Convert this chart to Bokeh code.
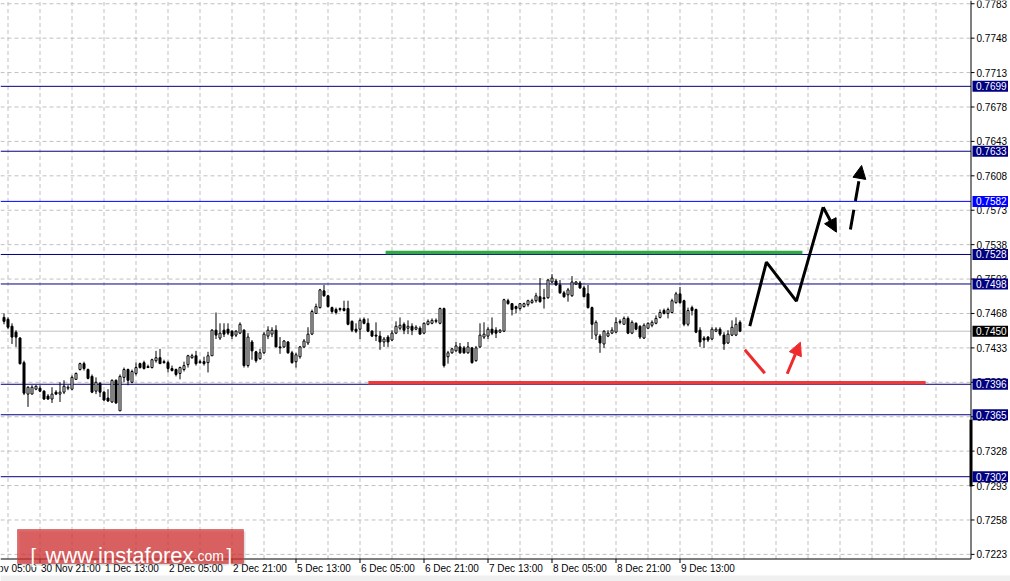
from bokeh.plotting import figure
from bokeh.models import Range1d, Arrow, NormalHead
from bokeh.core.properties import value
from bokeh.embed import file_html
from bokeh.resources import INLINE

# ---------------- data (hourly candles) ----------------
opens = [0.7464, 0.7462, 0.7455, 0.7449, 0.7443, 0.7418, 0.7386, 0.7386, 0.7391, 0.7392,
         0.7389, 0.7384, 0.7381, 0.7388, 0.7386, 0.7388, 0.7392, 0.7391, 0.7401, 0.7411,
         0.7417, 0.7411, 0.7404, 0.7389, 0.7397, 0.7388, 0.7382, 0.7378, 0.7400, 0.7369,
         0.7403, 0.7411, 0.7398, 0.7407, 0.7417, 0.7418, 0.7414, 0.7413, 0.7420, 0.7423,
         0.7419, 0.7418, 0.7412, 0.7411, 0.7407, 0.7411, 0.7416, 0.7423, 0.7425, 0.7418,
         0.7419, 0.7418, 0.7425, 0.7451, 0.7443, 0.7451, 0.7452, 0.7450, 0.7446, 0.7448,
         0.7451, 0.7415, 0.7439, 0.7429, 0.7422, 0.7428, 0.7445, 0.7447, 0.7451, 0.7434,
         0.7434, 0.7439, 0.7428, 0.7419, 0.7424, 0.7434, 0.7438, 0.7447, 0.7468, 0.7474,
         0.7491, 0.7486, 0.7474, 0.7472, 0.7472, 0.7473, 0.7473, 0.7460, 0.7452, 0.7452,
         0.7462, 0.7458, 0.7450, 0.7446, 0.7445, 0.7439, 0.7444, 0.7441, 0.7448, 0.7453,
         0.7457, 0.7453, 0.7455, 0.7452, 0.7453, 0.7448, 0.7457, 0.7458, 0.7460, 0.7458,
         0.7473, 0.7424, 0.7428, 0.7430, 0.7434, 0.7433, 0.7428, 0.7433, 0.7420, 0.7434,
         0.7444, 0.7445, 0.7452, 0.7451, 0.7449, 0.7450, 0.7481, 0.7478, 0.7475, 0.7473,
         0.7475, 0.7477, 0.7479, 0.7481, 0.7485, 0.7484, 0.7484, 0.7500, 0.7501, 0.7497,
         0.7489, 0.7487, 0.7486, 0.7498, 0.7499, 0.7494, 0.7488, 0.7474, 0.7446, 0.7445,
         0.7437, 0.7445, 0.7448, 0.7449, 0.7459, 0.7457, 0.7463, 0.7448, 0.7458, 0.7455,
         0.7443, 0.7453, 0.7456, 0.7458, 0.7464, 0.7471, 0.7468, 0.7469, 0.7479, 0.7488,
         0.7481, 0.7457, 0.7474, 0.7472, 0.7451, 0.7443, 0.7444, 0.7442, 0.7450, 0.7452,
         0.7446, 0.7438, 0.7446, 0.7446, 0.7459]
highs = [0.7468, 0.7464, 0.7458, 0.7451, 0.7444, 0.7420, 0.7394, 0.7395, 0.7395, 0.7395,
         0.7390, 0.7386, 0.7393, 0.7390, 0.7398, 0.7400, 0.7395, 0.7405, 0.7408, 0.7418,
         0.7419, 0.7412, 0.7406, 0.7403, 0.7398, 0.7389, 0.7391, 0.7401, 0.7401, 0.7406,
         0.7413, 0.7412, 0.7411, 0.7418, 0.7418, 0.7420, 0.7416, 0.7422, 0.7430, 0.7432,
         0.7421, 0.7420, 0.7415, 0.7412, 0.7414, 0.7419, 0.7426, 0.7427, 0.7430, 0.7421,
         0.7424, 0.7429, 0.7452, 0.7469, 0.7458, 0.7458, 0.7458, 0.7451, 0.7451, 0.7459,
         0.7452, 0.7448, 0.7441, 0.7430, 0.7432, 0.7449, 0.7455, 0.7454, 0.7456, 0.7444,
         0.7441, 0.7440, 0.7430, 0.7428, 0.7435, 0.7442, 0.7454, 0.7472, 0.7478, 0.7493,
         0.7497, 0.7487, 0.7475, 0.7474, 0.7474, 0.7481, 0.7481, 0.7461, 0.7458, 0.7463,
         0.7464, 0.7463, 0.7451, 0.7459, 0.7450, 0.7444, 0.7446, 0.7451, 0.7460, 0.7464,
         0.7459, 0.7461, 0.7458, 0.7456, 0.7455, 0.7459, 0.7462, 0.7463, 0.7463, 0.7474,
         0.7474, 0.7430, 0.7433, 0.7439, 0.7438, 0.7435, 0.7439, 0.7434, 0.7435, 0.7458,
         0.7459, 0.7454, 0.7464, 0.7454, 0.7452, 0.7483, 0.7483, 0.7478, 0.7476, 0.7478,
         0.7479, 0.7482, 0.7483, 0.7489, 0.7504, 0.7493, 0.7503, 0.7508, 0.7503, 0.7502,
         0.7491, 0.7494, 0.7506, 0.7501, 0.7501, 0.7496, 0.7497, 0.7475, 0.7461, 0.7447,
         0.7451, 0.7451, 0.7454, 0.7464, 0.7462, 0.7465, 0.7465, 0.7461, 0.7459, 0.7456,
         0.7458, 0.7459, 0.7461, 0.7466, 0.7472, 0.7473, 0.7474, 0.7483, 0.7490, 0.7495,
         0.7482, 0.7474, 0.7476, 0.7473, 0.7454, 0.7445, 0.7445, 0.7454, 0.7454, 0.7454,
         0.7449, 0.7451, 0.7461, 0.7464, 0.7461]
lows = [0.7457, 0.7452, 0.7437, 0.7434, 0.7416, 0.7385, 0.7373, 0.7386, 0.7390, 0.7388,
        0.7380, 0.7380, 0.7377, 0.7385, 0.7378, 0.7386, 0.7390, 0.7390, 0.7401, 0.7410,
        0.7410, 0.7401, 0.7387, 0.7386, 0.7383, 0.7379, 0.7378, 0.7377, 0.7376, 0.7369,
        0.7398, 0.7395, 0.7397, 0.7405, 0.7412, 0.7411, 0.7413, 0.7412, 0.7418, 0.7417,
        0.7417, 0.7408, 0.7409, 0.7404, 0.7401, 0.7409, 0.7413, 0.7422, 0.7415, 0.7417,
        0.7415, 0.7408, 0.7425, 0.7442, 0.7441, 0.7444, 0.7446, 0.7442, 0.7444, 0.7447,
        0.7413, 0.7413, 0.7421, 0.7418, 0.7421, 0.7427, 0.7442, 0.7444, 0.7434, 0.7427,
        0.7433, 0.7427, 0.7417, 0.7413, 0.7422, 0.7433, 0.7436, 0.7446, 0.7468, 0.7473,
        0.7485, 0.7474, 0.7468, 0.7467, 0.7470, 0.7470, 0.7456, 0.7449, 0.7448, 0.7442,
        0.7457, 0.7449, 0.7444, 0.7440, 0.7431, 0.7434, 0.7434, 0.7440, 0.7447, 0.7451,
        0.7447, 0.7447, 0.7446, 0.7451, 0.7447, 0.7447, 0.7456, 0.7457, 0.7458, 0.7457,
        0.7413, 0.7417, 0.7427, 0.7429, 0.7427, 0.7427, 0.7427, 0.7417, 0.7419, 0.7433,
        0.7442, 0.7442, 0.7446, 0.7443, 0.7448, 0.7449, 0.7477, 0.7466, 0.7468, 0.7471,
        0.7474, 0.7475, 0.7478, 0.7479, 0.7479, 0.7473, 0.7483, 0.7499, 0.7496, 0.7488,
        0.7484, 0.7480, 0.7485, 0.7497, 0.7493, 0.7485, 0.7473, 0.7442, 0.7441, 0.7428,
        0.7433, 0.7444, 0.7447, 0.7448, 0.7457, 0.7457, 0.7447, 0.7447, 0.7451, 0.7442,
        0.7442, 0.7452, 0.7454, 0.7457, 0.7463, 0.7467, 0.7463, 0.7468, 0.7478, 0.7478,
        0.7455, 0.7455, 0.7466, 0.7448, 0.7434, 0.7433, 0.7439, 0.7441, 0.7449, 0.7445,
        0.7431, 0.7437, 0.7445, 0.7445, 0.7449]
closes = [0.7460, 0.7454, 0.7444, 0.7444, 0.7417, 0.7387, 0.7393, 0.7393, 0.7394, 0.7389,
          0.7381, 0.7381, 0.7386, 0.7386, 0.7388, 0.7394, 0.7393, 0.7403, 0.7407, 0.7417,
          0.7412, 0.7402, 0.7388, 0.7398, 0.7388, 0.7380, 0.7379, 0.7400, 0.7377, 0.7404,
          0.7411, 0.7400, 0.7409, 0.7413, 0.7413, 0.7412, 0.7413, 0.7421, 0.7423, 0.7417,
          0.7418, 0.7412, 0.7410, 0.7406, 0.7413, 0.7415, 0.7425, 0.7425, 0.7417, 0.7419,
          0.7417, 0.7425, 0.7451, 0.7446, 0.7448, 0.7447, 0.7448, 0.7445, 0.7450, 0.7457,
          0.7415, 0.7444, 0.7430, 0.7420, 0.7428, 0.7447, 0.7451, 0.7451, 0.7434, 0.7433,
          0.7440, 0.7428, 0.7418, 0.7426, 0.7434, 0.7440, 0.7447, 0.7470, 0.7475, 0.7492,
          0.7486, 0.7475, 0.7470, 0.7469, 0.7473, 0.7471, 0.7457, 0.7451, 0.7450, 0.7461,
          0.7458, 0.7450, 0.7445, 0.7445, 0.7439, 0.7442, 0.7439, 0.7448, 0.7455, 0.7456,
          0.7451, 0.7455, 0.7451, 0.7454, 0.7447, 0.7458, 0.7460, 0.7461, 0.7461, 0.7473,
          0.7415, 0.7428, 0.7432, 0.7435, 0.7428, 0.7428, 0.7434, 0.7418, 0.7433, 0.7446,
          0.7447, 0.7452, 0.7448, 0.7448, 0.7451, 0.7482, 0.7478, 0.7472, 0.7473, 0.7478,
          0.7478, 0.7481, 0.7481, 0.7486, 0.7480, 0.7483, 0.7502, 0.7504, 0.7497, 0.7489,
          0.7485, 0.7492, 0.7500, 0.7500, 0.7494, 0.7485, 0.7474, 0.7457, 0.7459, 0.7438,
          0.7450, 0.7448, 0.7451, 0.7459, 0.7460, 0.7463, 0.7448, 0.7459, 0.7452, 0.7444,
          0.7456, 0.7458, 0.7459, 0.7463, 0.7469, 0.7468, 0.7472, 0.7481, 0.7488, 0.7479,
          0.7457, 0.7471, 0.7471, 0.7449, 0.7439, 0.7441, 0.7441, 0.7452, 0.7452, 0.7447,
          0.7437, 0.7447, 0.7454, 0.7457, 0.7450]

time_labels = ["30 Nov 05:00", "30 Nov 21:00", "1 Dec 13:00", "2 Dec 05:00", "2 Dec 21:00",
               "5 Dec 13:00", "6 Dec 05:00", "6 Dec 21:00", "7 Dec 13:00", "8 Dec 05:00",
               "8 Dec 21:00", "9 Dec 13:00"]
time_label_bars = [-7, 9, 25, 41, 57, 73, 89, 105, 121, 137, 153, 169]

price_ticks = [0.7783, 0.7748, 0.7713, 0.7678, 0.7643, 0.7608, 0.7573, 0.7538, 0.7503,
               0.7468, 0.7433, 0.7398, 0.7363, 0.7328, 0.7293, 0.7258, 0.7223]

level_prices = [0.7699, 0.7633, 0.7582, 0.7528, 0.7498, 0.7396, 0.7365, 0.7302]
bid_price = 0.7450

# hand-drawn forecast marks (bar index, price)
green_bars = [95.4, 199.6]
green_prices = [0.7530, 0.7530]
red_bars = [91.1, 230.4]
red_prices = [0.73975, 0.73975]
path_bars = [186.45, 190.6, 198.1, 204.8, 208.1]
path_prices = [0.74551, 0.75202, 0.74805, 0.75761, 0.75507]
dash_bars = [211.6, 214.4]
dash_prices = [0.75534, 0.76185]
red_stroke_bars = [185.2, 190.2]
red_stroke_prices = [0.74311, 0.74073]
red_arrow_bars = [195.8, 199.1]
red_arrow_prices = [0.74067, 0.74388]
axis_bar_prices = [0.7360, 0.7292]

# ---------------- layout / styles ----------------
NAVY = "#000080"
BLUE = "#0000ff"
level_colors = [NAVY, NAVY, BLUE, NAVY, NAVY, NAVY, NAVY, NAVY]
FONT = "Liberation Sans"
W, H = 1010, 581
BAR_PX = 4.0                 # pixels per bar
X_LEFT = -0.875              # bar index at left edge
PX = 0.0001017               # price per pixel
P_TOP = 0.77863              # price at top edge
X_RIGHT = X_LEFT + W / BAR_PX
P_BOTTOM = P_TOP - H * PX


def bx(px):   # pixel column -> bar coordinate
    return X_LEFT + px / BAR_PX


def py(px):   # pixel row -> price coordinate
    return P_TOP - px * PX


AX_X = bx(970.5)     # price axis line
AX_Y = py(558.5)     # time axis line

p = figure(frame_width=W, frame_height=H,
           x_range=Range1d(X_LEFT, X_RIGHT), y_range=Range1d(P_BOTTOM, P_TOP),
           x_axis_location=None, y_axis_location=None,
           toolbar_location=None, output_backend="svg",
           min_border=0, min_border_left=0, min_border_right=0, min_border_top=0, min_border_bottom=0,
           background_fill_color="white", border_fill_color="white", outline_line_color=None)
p.grid.visible = False

# bottom window strip
p.quad(left=[X_LEFT], right=[X_RIGHT], top=[py(575)], bottom=[P_BOTTOM],
       fill_color="#f0f0f0", line_color=None)

# grid
grid_bars = list(range(time_label_bars[0] - 8 + 16, int(AX_X), 8))
p.segment(x0=grid_bars, y0=[AX_Y] * len(grid_bars), x1=grid_bars, y1=[P_TOP] * len(grid_bars),
          line_color="#c0c0c0", line_width=1, line_dash="4 3")
p.segment(x0=[X_LEFT] * len(price_ticks), y0=price_ticks, x1=[AX_X] * len(price_ticks), y1=price_ticks,
          line_color="#c0c0c0", line_width=1, line_dash="4 3")

# bid line and levels
p.segment(x0=[X_LEFT], y0=[bid_price], x1=[AX_X], y1=[bid_price], line_color="#c0c0c0", line_width=1)
p.segment(x0=[X_LEFT] * len(level_prices), y0=level_prices, x1=[AX_X] * len(level_prices), y1=level_prices,
          line_color=level_colors, line_width=1)

# candles
idx = list(range(len(opens)))
p.segment(x0=idx, y0=lows, x1=idx, y1=highs, line_color="black", line_width=1)
bull = [i for i in idx if closes[i] >= opens[i]]
bear = [i for i in idx if closes[i] < opens[i]]
p.vbar(x=bull, width=0.5, top=[closes[i] for i in bull], bottom=[opens[i] for i in bull],
       fill_color="white", line_color="black", line_width=1)
p.vbar(x=bear, width=0.5, top=[opens[i] for i in bear], bottom=[closes[i] for i in bear],
       fill_color="black", line_color="black", line_width=1)

# forecast marks
p.line(green_bars, green_prices, line_color="#2fa845", line_width=3.5)
p.line(red_bars, red_prices, line_color="#ee3a3d", line_width=3.5)
p.line(path_bars[:4], path_prices[:4], line_color="black", line_width=3)
p.add_layout(Arrow(end=NormalHead(size=13, fill_color="black", line_color="black"),
                   x_start=path_bars[3], y_start=path_prices[3],
                   x_end=path_bars[4], y_end=path_prices[4],
                   line_color="black", line_width=3))
p.add_layout(Arrow(end=NormalHead(size=13, fill_color="black", line_color="black"),
                   x_start=dash_bars[0], y_start=dash_prices[0],
                   x_end=dash_bars[1], y_end=dash_prices[1],
                   line_color="black", line_width=3, line_dash="20 9"))
p.line(red_stroke_bars, red_stroke_prices, line_color="#ee2a2d", line_width=3)
p.add_layout(Arrow(end=NormalHead(size=13, fill_color="#ee2a2d", line_color="#ee2a2d"),
                   x_start=red_arrow_bars[0], y_start=red_arrow_prices[0],
                   x_end=red_arrow_bars[1], y_end=red_arrow_prices[1],
                   line_color="#ee2a2d", line_width=3))

# ---- time axis ----
p.segment(x0=[X_LEFT], y0=[AX_Y], x1=[AX_X], y1=[AX_Y], line_color="black", line_width=1)
p.segment(x0=time_label_bars, y0=[AX_Y] * len(time_label_bars),
          x1=time_label_bars, y1=[py(562.5)] * len(time_label_bars), line_color="black", line_width=1)
p.text(x=[b + 0.25 for b in time_label_bars], y=[py(562)] * len(time_label_bars), text=time_labels,
       text_font=value(FONT), text_font_size=value("10px"), text_color="black",
       text_align="left", text_baseline="top")

# ---- price axis ----
p.segment(x0=[AX_X], y0=[AX_Y], x1=[AX_X], y1=[P_TOP], line_color="black", line_width=1)
p.segment(x0=[AX_X] * len(price_ticks), y0=price_ticks, x1=[bx(974)] * len(price_ticks), y1=price_ticks,
          line_color="black", line_width=1)
p.text(x=[bx(976)] * len(price_ticks), y=price_ticks, text=[f"{t:.4f}" for t in price_ticks],
       text_font=value(FONT), text_font_size=value("10px"), text_color="black",
       text_align="left", text_baseline="middle")

# black bar on the price axis
p.segment(x0=[AX_X], y0=[axis_bar_prices[0]], x1=[AX_X], y1=[axis_bar_prices[1]],
          line_color="black", line_width=3)

# price boxes on the axis
box_prices = level_prices + [bid_price]
box_colors = level_colors + ["black"]
p.quad(left=[bx(972)] * len(box_prices), right=[bx(1007.5)] * len(box_prices),
       top=[b + 5.5 * PX for b in box_prices], bottom=[b - 5.5 * PX for b in box_prices],
       fill_color=box_colors, line_color=None)
p.text(x=[bx(975.5)] * len(box_prices), y=box_prices, text=[f"{b:.4f}" for b in box_prices],
       text_font=value(FONT), text_font_size=value("10px"), text_color="white",
       text_align="left", text_baseline="middle")

# ---- logo ----
p.quad(left=[bx(19)], right=[bx(245)], top=[py(531)], bottom=[py(565)],
       fill_color="#808080", fill_alpha=0.25, line_color=None)
p.quad(left=[bx(17)], right=[bx(243)], top=[py(529)], bottom=[py(563)],
       fill_color="#d52a2a", fill_alpha=0.7, line_color="#c05050", line_alpha=0.6)
p.text(x=[bx(30)], y=[py(555)], text=["["], text_font=value(FONT), text_font_size=value("20px"),
       text_color="white", text_baseline="alphabetic")
p.text(x=[bx(45)], y=[py(555)], text=["www.instaforex"], text_font=value(FONT),
       text_font_size=value("22px"), text_color="white", text_baseline="alphabetic")
p.text(x=[bx(193)], y=[py(555)], text=[".com"], text_font=value(FONT),
       text_font_size=value("14px"), text_color="white", text_baseline="alphabetic")
p.text(x=[bx(226)], y=[py(555)], text=["]"], text_font=value(FONT), text_font_size=value("20px"),
       text_color="white", text_baseline="alphabetic")

open("out.html", "w").write(file_html(p, INLINE))
